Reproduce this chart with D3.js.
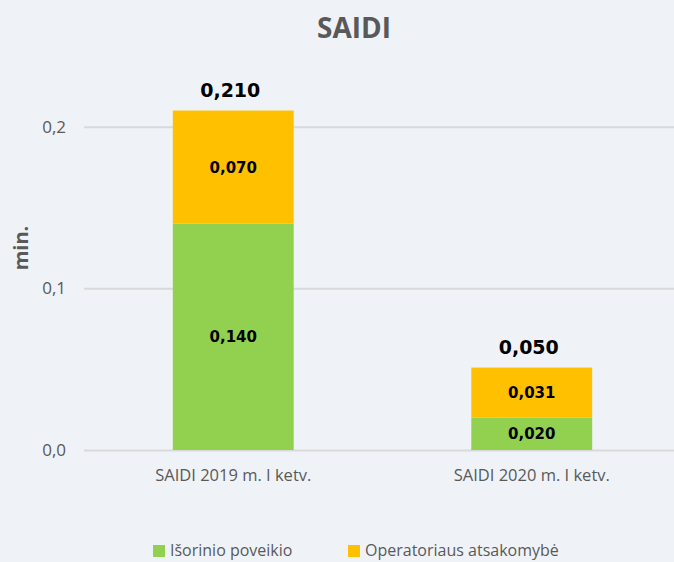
<!DOCTYPE html>
<html>
<head>
<meta charset="utf-8">
<script src="https://cdn.jsdelivr.net/npm/d3@7"></script>
<style>
    body { margin: 0; background: #eff3f7; }
    svg { display: block; }
</style>
</head>
<body>
<svg id="chart"></svg>
<script>
// data
let categories = ['SAIDI 2019 m. I ketv.', 'SAIDI 2020 m. I ketv.'];
let seriesNames = ['Išorinio poveikio', 'Operatoriaus atsakomybė'];
let external = [0.140, 0.020];
let operator = [0.070, 0.031];
let totals = [0.210, 0.050];
let yTicks = [0.0, 0.1, 0.2];

let colors = ['#92d050', '#ffc000'];
let textFont = '"Open Sans", sans-serif';
let width = 674, height = 562;
let margin = {top: 60, bot: 112, left: 84, right: -7};
let config = {
    margin: margin,
    bodyWidth: width - margin.left - margin.right,
    bodyHeight: height - margin.top - margin.bot,
    width: width,
    height: height
};

let svg = d3.select('#chart')
    .attr('width', width)
    .attr('height', height);

let fmt = v => d3.format('.3f')(v).replace('.', ',');

let xScale = d3.scaleBand()
    .domain(categories)
    .range([margin.left, margin.left + config.bodyWidth])
    .paddingInner(0.595)
    .paddingOuter(0.2975);
let yScale = d3.scaleLinear()
    .domain([0, 0.2])
    .range([450, 126.7]);

// title
svg.append('text')
    .attr('x', 354)
    .attr('y', 38)
    .attr('text-anchor', 'middle')
    .style('font-family', textFont)
    .style('font-weight', 'bold')
    .style('font-size', '28px')
    .style('fill', '#595959')
    .text('SAIDI');

// grid + y axis
let yAx = d3.axisLeft(yScale)
    .tickValues(yTicks)
    .tickSize(-(width - margin.left))
    .tickFormat(d => d3.format('.1f')(d).replace('.', ','));
let yAxGroup = svg.append('g')
    .attr('transform', `translate(${margin.left},0)`)
    .call(yAx);
yAxGroup.select('.domain').remove();
yAxGroup.selectAll('line')
    .attr('stroke', '#d9d9d9')
    .attr('stroke-width', 2);
yAxGroup.selectAll('text')
    .attr('x', -18)
    .style('font-family', textFont)
    .style('font-size', '17px')
    .style('fill', '#595959');

// y title
svg.append('text')
    .attr('transform', 'rotate(-90)')
    .attr('x', -248)
    .attr('y', 28)
    .attr('text-anchor', 'middle')
    .style('font-family', textFont)
    .style('font-weight', 'bold')
    .style('font-size', '20px')
    .style('fill', '#595959')
    .text('min.');

// stacked bars
let rows = categories.map((c, i) => ({cat: c, ext: external[i], op: operator[i]}));
let stacked = d3.stack().keys(['ext', 'op'])(rows);

let layers = svg.append('g')
    .selectAll('g')
    .data(stacked)
    .join('g')
    .attr('fill', (d, i) => colors[i]);
layers.selectAll('rect')
    .data(d => d)
    .join('rect')
    .attr('x', d => xScale(d.data.cat))
    .attr('width', xScale.bandwidth())
    .attr('y', d => yScale(d[1]))
    .attr('height', d => yScale(d[0]) - yScale(d[1]));
layers.selectAll('text')
    .data(d => d)
    .join('text')
    .attr('x', d => xScale(d.data.cat) + xScale.bandwidth() / 2)
    .attr('y', d => (yScale(d[0]) + yScale(d[1])) / 2)
    .attr('dy', '0.36em')
    .attr('text-anchor', 'middle')
    .style('font-family', '"DejaVu Sans", sans-serif')
    .style('font-weight', 'bold')
    .style('font-size', '15px')
    .style('fill', '#000')
    .text(d => fmt(d[1] - d[0]));

// totals
svg.append('g')
    .selectAll('text')
    .data(categories)
    .join('text')
    .attr('x', d => xScale(d) + xScale.bandwidth() / 2 - 3)
    .attr('y', (d, i) => yScale(external[i] + operator[i]) - 14)
    .attr('text-anchor', 'middle')
    .style('font-family', '"DejaVu Sans", sans-serif')
    .style('font-weight', 'bold')
    .style('font-size', '19px')
    .style('fill', '#000')
    .text((d, i) => fmt(totals[i]));

// x labels
let xAxGroup = svg.append('g')
    .attr('transform', 'translate(0,450)')
    .call(d3.axisBottom(xScale).tickSize(0));
xAxGroup.select('.domain').remove();
xAxGroup.selectAll('text')
    .attr('dy', 0)
    .attr('y', 31)
    .style('font-family', textFont)
    .style('font-size', '16.5px')
    .style('fill', '#595959');

// legend (kept a little above the bottom edge so descenders are not cut)
let legendX = [153, 348];
let legend = svg.append('g')
    .selectAll('g')
    .data(seriesNames)
    .join('g')
    .attr('transform', (d, i) => `translate(${legendX[i]},545)`);
legend.append('rect')
    .attr('width', 12)
    .attr('height', 12)
    .attr('fill', (d, i) => colors[i]);
legend.append('text')
    .attr('x', 17)
    .attr('y', 11)
    .style('font-family', textFont)
    .style('font-size', '16px')
    .style('fill', '#595959')
    .text(d => d);
</script>
</body>
</html>
